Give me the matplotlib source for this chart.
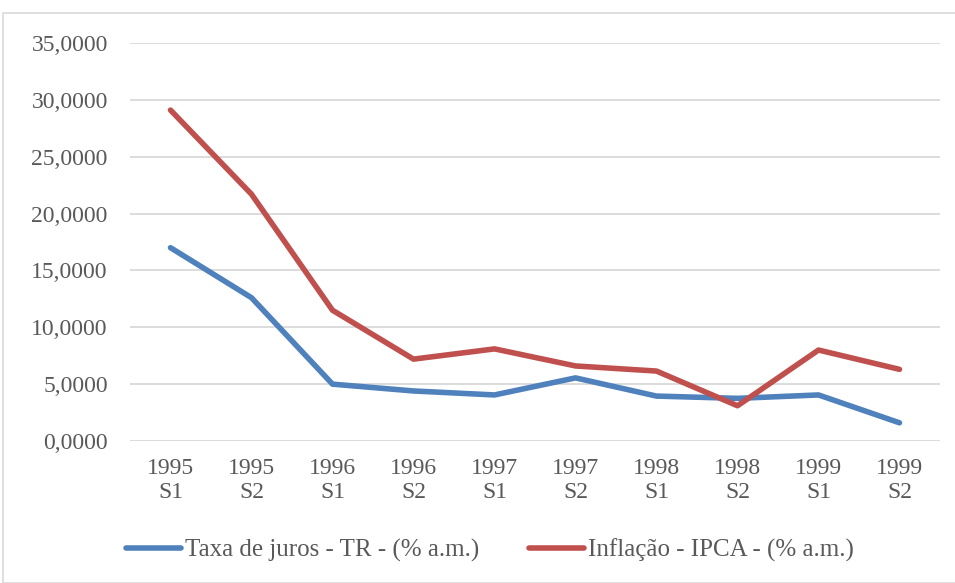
import matplotlib.pyplot as plt
from matplotlib.patches import Rectangle

periods = ["1995\nS1", "1995\nS2", "1996\nS1", "1996\nS2", "1997\nS1",
           "1997\nS2", "1998\nS1", "1998\nS2", "1999\nS1", "1999\nS2"]
taxa_tr = [17.0, 12.6, 5.0, 4.4, 4.05, 5.55, 3.95, 3.75, 4.05, 1.6]
ipca = [29.1, 21.7, 11.5, 7.2, 8.1, 6.6, 6.15, 3.1, 8.0, 6.3]
yticks = [0, 5, 10, 15, 20, 25, 30, 35]

plt.rcParams['font.family'] = ['Liberation Serif', 'DejaVu Serif']
txt = '#595959'

fig = plt.figure(figsize=(9.55, 5.83), dpi=100)
fig.patches.append(Rectangle((3 / 955, 0), 1, 1 - 13 / 583, transform=fig.transFigure,
                             fill=False, edgecolor='#d9d9d9', linewidth=1.2))
ax = fig.add_axes([130 / 955, 1 - 441 / 583, 810 / 955, 398 / 583])

x = range(len(periods))
ax.plot(x, taxa_tr, color='#4f81bd', linewidth=4, solid_capstyle='round',
        label='Taxa de juros - TR - (% a.m.)')
ax.plot(x, ipca, color='#c0504d', linewidth=4, solid_capstyle='round',
        label='Inflação - IPCA - (% a.m.)')

ax.set_xlim(-0.5, len(periods) - 0.5)
ax.set_ylim(0, 35)
ax.set_yticks(yticks)
ax.set_yticklabels([f"{v:.4f}".replace('.', ',') for v in yticks])
ax.set_xticks(list(x))
ax.set_xticklabels(periods, linespacing=1.2)
ax.tick_params(length=0, labelsize=17, labelcolor=txt)
ax.tick_params(axis='y', pad=16)
ax.tick_params(axis='x', pad=12)
ax.grid(axis='y', color='#d9d9d9', linewidth=1.3)
ax.set_axisbelow(True)
for s in ax.spines.values():
    s.set_visible(False)

fig.legend(loc='center', bbox_to_anchor=(0.513, 1 - 550 / 583), ncol=2, frameon=False,
           fontsize=18, labelcolor=txt, handlelength=2.2, handletextpad=0.15,
           columnspacing=2.0)

fig.savefig('out.png', dpi=100)
